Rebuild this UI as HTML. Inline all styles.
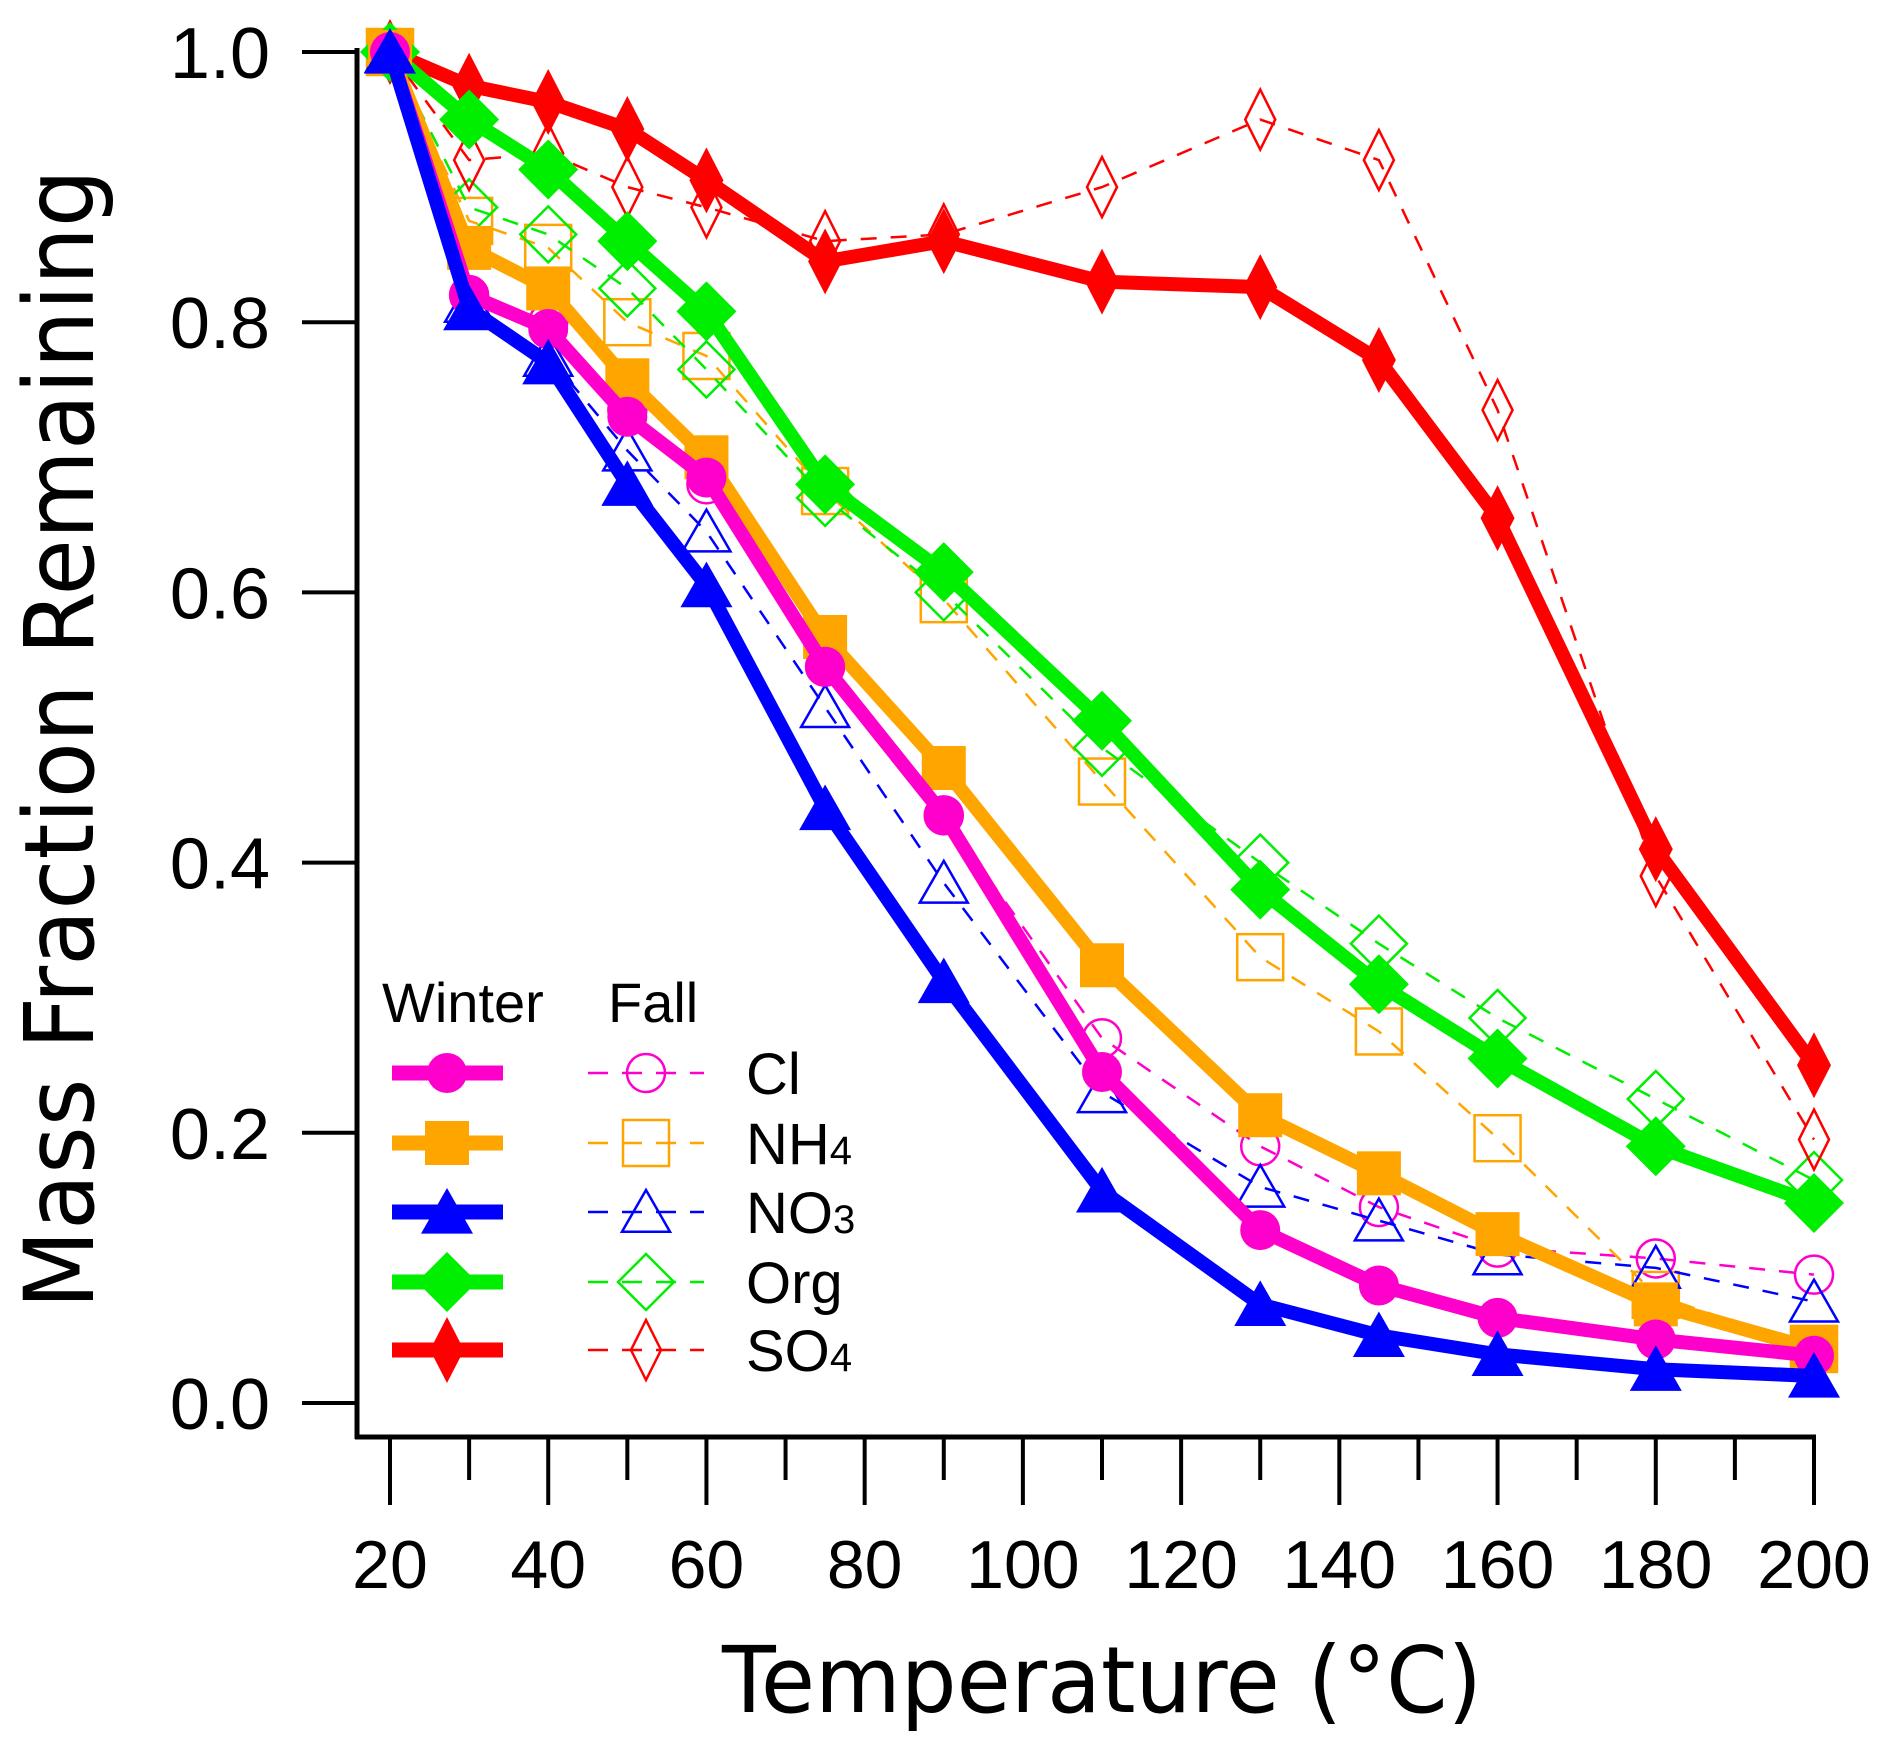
<!DOCTYPE html>
<html><head><meta charset="utf-8"><style>html,body{margin:0;padding:0;background:#fff}svg{display:block}</style></head>
<body>
<svg id="chart" xmlns="http://www.w3.org/2000/svg" width="1892" height="1755" viewBox="0 0 1892 1755">
<rect width="1892" height="1755" fill="#fff"/>
<g id="axes"></g>
<g id="series"></g>
<g id="legend"></g>
</svg>
<script>
const temps = [20,30,40,50,60,75,90,110,130,145,160,180,200];
const winterCl  = [1.0,0.82,0.795,0.73,0.685,0.545,0.435,0.245,0.128,0.087,0.063,0.047,0.035];
const winterNH4 = [1.0,0.855,0.825,0.757,0.7,0.567,0.47,0.324,0.213,0.17,0.125,0.073,0.04];
const winterNO3 = [1.0,0.81,0.77,0.68,0.605,0.44,0.312,0.157,0.073,0.05,0.036,0.025,0.02];
const winterOrg = [1.0,0.95,0.913,0.86,0.808,0.68,0.615,0.505,0.38,0.31,0.255,0.19,0.148];
const winterSO4 = [1.0,0.975,0.963,0.943,0.905,0.845,0.86,0.83,0.826,0.772,0.655,0.41,0.25];
const fallCl  = [1.0,0.82,0.8,0.735,0.68,0.545,0.435,0.27,0.19,0.145,0.115,0.107,0.095];
const fallNH4 = [1.0,0.875,0.855,0.8,0.775,0.675,0.595,0.46,0.33,0.275,0.196,0.08,0.04];
const fallNO3 = [1.0,0.815,0.775,0.705,0.645,0.515,0.385,0.23,0.16,0.135,0.11,0.1,0.075];
const fallOrg = [1.0,0.885,0.865,0.825,0.765,0.67,0.6,0.485,0.4,0.34,0.285,0.225,0.165];
const fallSO4 = [1.0,0.92,0.925,0.9,0.885,0.86,0.865,0.9,0.95,0.92,0.735,0.39,0.195];
const xTickLabels = ["20","40","60","80","100","120","140","160","180","200"];
const yTickLabels = ["0.0","0.2","0.4","0.6","0.8","1.0"];
const speciesNames = ["Cl","NH4","NO3","Org","SO4"];

const NS="http://www.w3.org/2000/svg";
const X0=390, X1=1814, T0=20, T1=200, Y0=1403, Y1=52;
function xs(t){return X0+(t-T0)*(X1-X0)/(T1-T0);}
function ys(v){return Y0-v*(Y0-Y1);}
function mk(tag,attrs,parent){const e=document.createElementNS(NS,tag);for(const k in attrs)e.setAttribute(k,attrs[k]);parent.appendChild(e);return e;}
const axes=document.getElementById('axes'), ser=document.getElementById('series'), leg=document.getElementById('legend');

// axes
let e=mk('line',{x1:357,y1:48,x2:357,y2:1439,stroke:'#000','stroke-width':5},axes);


e=mk('line',{x1:355,y1:1437,x2:1816,y2:1437,stroke:'#000','stroke-width':5},axes);


yTickLabels.forEach(l=>{
  const v=parseFloat(l);
  let t=mk('line',{x1:302,y1:ys(v),x2:357,y2:ys(v),stroke:'#000','stroke-width':4},axes);
  
  
  let tx=mk('text',{x:270,y:ys(v)+26,'text-anchor':'end','font-size':72,'font-family':'Liberation Sans, sans-serif'},axes);
  tx.textContent=l;
  
  
});
for(let t=20;t<=200;t+=10){
  const major=(t%20===0);
  let tk=mk('line',{x1:xs(t),y1:1437,x2:xs(t),y2:major?1505:1480,stroke:'#000','stroke-width':4},axes);
  
  
}
xTickLabels.forEach(l=>{
  let tx=mk('text',{x:xs(parseFloat(l)),y:1588,'text-anchor':'middle','font-size':68,'font-family':'Liberation Sans, sans-serif'},axes);
  tx.textContent=l;
  
  
});
let xt=mk('text',{x:722,y:1712,'font-size':92,'font-family':'DejaVu Sans, sans-serif',textLength:760,lengthAdjust:'spacingAndGlyphs'},axes);
xt.textContent='Temperature (°C)';


let yt=mk('text',{x:0,y:0,'font-size':96,'font-family':'DejaVu Sans, sans-serif',textLength:1140,lengthAdjust:'spacingAndGlyphs','text-anchor':'middle',transform:'translate(93,739) rotate(-90)'},axes);
yt.textContent='Mass Fraction Remaining';



const colors={Cl:'#ff00cc',NH4:'#ffa500',NO3:'#0000ff',Org:'#00ee00',SO4:'#ff0000'};
const shapes={Cl:'circle',NH4:'square',NO3:'triangle',Org:'diamond',SO4:'thin'};
function marker(parent,shape,cx,cy,color,filled){
  const a=filled?{fill:color,stroke:'none'}:{fill:'none',stroke:color,'stroke-width':2.5};
  let m;
  if(shape==='circle') m=mk('circle',Object.assign({cx:cx,cy:cy,r:filled?20:19},a),parent);
  else if(shape==='square'){const s=filled?22:23;m=mk('rect',Object.assign({x:cx-s,y:cy-s,width:2*s,height:2*s},a),parent);}
  else if(shape==='triangle'){const w=filled?26:24,h=filled?24:22;m=mk('polygon',Object.assign({points:`${cx},${cy-h} ${cx+w},${cy+h*0.9} ${cx-w},${cy+h*0.9}`},a),parent);}
  else if(shape==='diamond'){const r=filled?30:28;m=mk('polygon',Object.assign({points:`${cx},${cy-r} ${cx+r},${cy} ${cx},${cy+r} ${cx-r},${cy}`},a),parent);}
  else {const w=filled?17:15,h=filled?33:30;m=mk('polygon',Object.assign({points:`${cx},${cy-h} ${cx+w},${cy} ${cx},${cy+h} ${cx-w},${cy}`},a),parent);}
  return m;
}
const winter={Cl:winterCl,NH4:winterNH4,NO3:winterNO3,Org:winterOrg,SO4:winterSO4};
const fall={Cl:fallCl,NH4:fallNH4,NO3:fallNO3,Org:fallOrg,SO4:fallSO4};
function drawSeries(vals,sp,isW){
  const g=mk('g',{},ser);
  
  
  const pts=temps.map((t,i)=>xs(t)+','+ys(vals[i])).join(' ');
  let pl=mk('polyline',{points:pts,fill:'none',stroke:colors[sp],'stroke-width':isW?14:2.5,'stroke-dasharray':isW?'none':'16,14','stroke-linejoin':'miter'},g);
  
  
  temps.forEach((t,i)=>{
    let m=marker(g,shapes[sp],xs(t),ys(vals[i]),colors[sp],isW);
    
    
  });
}
['Cl','NH4','NO3','Org','SO4'].forEach(sp=>drawSeries(fall[sp],sp,false));
['SO4','Org','NH4','Cl','NO3'].forEach(sp=>drawSeries(winter[sp],sp,true));

// legend
let lw=mk('text',{x:382,y:1022,'font-size':56,'font-family':'Liberation Sans, sans-serif'},leg);
lw.textContent='Winter';


let lf=mk('text',{x:608,y:1022,'font-size':56,'font-family':'Liberation Sans, sans-serif'},leg);
lf.textContent='Fall';


const rowY=[1073,1143,1212,1282,1350];
speciesNames.forEach((sp,i)=>{
  const y=rowY[i];
  const g=mk('g',{},leg);
  
  
  mk('line',{x1:392,y1:y,x2:503,y2:y,stroke:colors[sp],'stroke-width':15},g);
  marker(g,shapes[sp],447,y,colors[sp],true);
  mk('line',{x1:588,y1:y,x2:704,y2:y,stroke:colors[sp],'stroke-width':2.5,'stroke-dasharray':'20,14'},g);
  marker(g,shapes[sp],646,y,colors[sp],false);
  const tx=mk('text',{x:746,y:y+21,'font-size':58,'font-family':'Liberation Sans, sans-serif'},g);
  const m=sp.match(/^([A-Za-z]+)(\d*)$/);
  tx.textContent=m[1];
  if(m[2]){const ts=mk('tspan',{'font-size':40},tx);ts.textContent=m[2];}
});
</script>
</body></html>
